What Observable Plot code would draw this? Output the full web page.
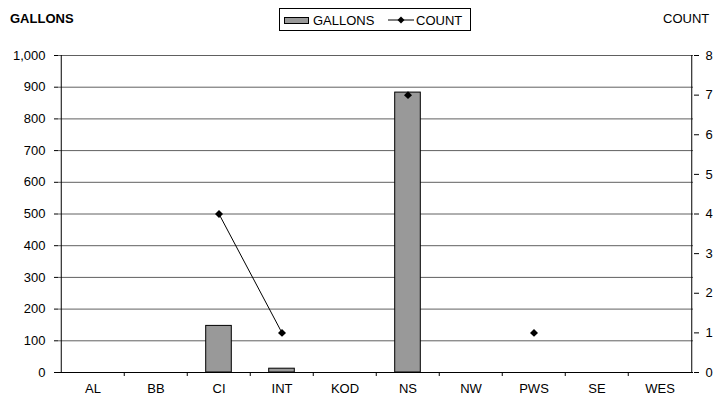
<!DOCTYPE html>
<html><head><meta charset="utf-8">
<script src="https://cdn.jsdelivr.net/npm/d3@7"></script>
<script src="https://cdn.jsdelivr.net/npm/@observablehq/plot@0.6"></script>
<style>
body{margin:0;background:#fff;font-family:"Liberation Sans",Arial,sans-serif;color:#000;}
#wrap{position:relative;width:723px;height:397px;overflow:hidden;}
#head{position:relative;height:44px;font-size:13px;}
.abs{position:absolute;white-space:nowrap;line-height:1;}
#legend{position:absolute;left:279px;top:8px;width:192px;height:23px;border:1px solid #000;box-sizing:border-box;}
#sw{position:absolute;left:4px;top:8px;width:25px;height:7px;background:#999;border:1px solid #000;box-sizing:border-box;}
</style></head><body>
<div id="wrap">
<div id="head">
  <div class="abs" style="left:10px;top:12px;font-weight:bold;">GALLONS</div>
  <div class="abs" style="left:663px;top:12px;">COUNT</div>
  <div id="legend">
    <div id="sw"></div>
    <div class="abs" style="left:33px;top:5px;">GALLONS</div>
    <svg class="abs" style="left:108px;top:6px" width="28" height="10"><line x1="0" y1="5" x2="26" y2="5" stroke="#000"/><path d="M13,1.5L16.5,5L13,8.5L9.5,5Z" fill="#000"/></svg>
    <div class="abs" style="left:136px;top:5px;">COUNT</div>
  </div>
</div>
<div id="chart"></div>
</div>
<script>
const categories = ["AL","BB","CI","INT","KOD","NS","NW","PWS","SE","WES"];
const gallons = [0,0,147,12,0,883,0,0,0,0];
const counts = [null,null,4,1,null,7,null,1,null,null];
const leftTicks = [0,100,200,300,400,500,600,700,800,900,1000];
const rightTicks = [0,1,2,3,4,5,6,7,8];
const gallonMax = 1000, countMax = 8;
const k = gallonMax / countMax;

const W = 723, H = 353, ML = 58, MR = 30, MT = 11, MB = 25;
const bw = (W - ML - MR) / categories.length;
const data = categories.map((c, i) => ({cat: c, gallons: gallons[i], count: counts[i]}));

const chart = Plot.plot({
  width: W, height: H, marginLeft: ML, marginRight: MR, marginTop: MT, marginBottom: MB,
  style: {fontSize: "13px", fontFamily: "'Liberation Sans', Arial, sans-serif", color: "#000", background: "#fff"},
  x: {domain: categories, padding: 0},
  y: {domain: [0, gallonMax]},
  marks: [
    Plot.ruleY(leftTicks.filter(t => t > 0), {stroke: "#606060"}),
    Plot.barY(data.filter(d => d.gallons > 0), {x: "cat", y: "gallons", fill: "#999999", stroke: "#000", strokeWidth: 1, insetLeft: 18.7, insetRight: 18.7}),
    Plot.ruleY([0], {stroke: "#000"}),
    Plot.ruleX([categories[0]], {dx: -bw / 2, stroke: "#000"}),
    Plot.ruleX([categories[categories.length - 1]], {dx: bw / 2, stroke: "#000"}),
    Plot.ruleX(categories.slice(1), {x: d => d, dx: -bw / 2, y1: 0, y2: 0, insetBottom: -4, stroke: "#000"}),
    Plot.line(data, {x: "cat", y: d => d.count == null ? NaN : d.count * k, stroke: "#000", strokeWidth: 1}),
    Plot.dot(data.filter(d => d.count != null), {x: "cat", y: d => d.count * k, symbol: "diamond2", r: 3.6, fill: "#000", stroke: "none"}),
    Plot.axisY({anchor: "left", ticks: leftTicks, tickFormat: d3.format(","), tickSize: 4, tickPadding: 9, label: null}),
    Plot.axisY({anchor: "right", ticks: rightTicks.map(v => v * k), tickFormat: d => d / k, tickSize: 5, tickPadding: 7, label: null}),
    Plot.axisX({tickSize: 0, tickPadding: 11, label: null})
  ]
});
document.getElementById("chart").appendChild(chart);
</script>
</body></html>
